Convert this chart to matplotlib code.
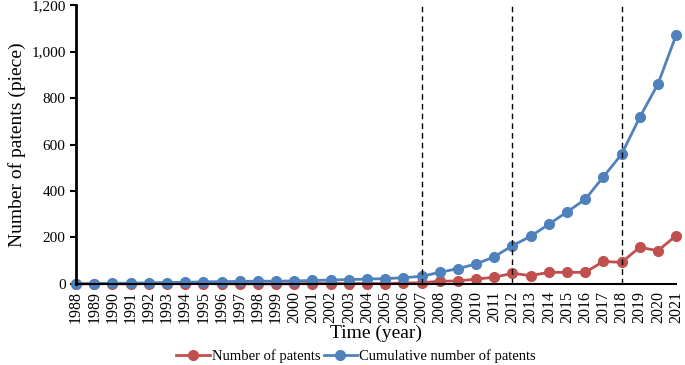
import matplotlib
matplotlib.use("Agg")
import matplotlib.pyplot as plt
from matplotlib.ticker import FuncFormatter

plt.rcParams['font.family'] = ['Liberation Serif', 'DejaVu Serif']

years = list(range(1988, 2022))
# patents per year
patents = [0, 1, 1, 0, 2, 1, 1, 2, 1, 1, 1, 0, 1, 2, 2, 2, 2, 2, 4, 5,
           12, 13, 21, 29, 46, 36, 50, 50, 50, 97, 93, 158, 143, 208]
# cumulative patents
cumulative = [1, 2, 3, 3, 5, 6, 7, 9, 10, 11, 12, 12, 13, 15, 17, 19, 21, 23, 27, 33,
              50, 66, 86, 117, 165, 205, 257, 310, 364, 461, 558, 717, 860, 1070]
split_years = [2007, 2012, 2018]

red = '#C0504D'
blue = '#4F81BD'

fig = plt.figure(figsize=(6.85, 3.65), dpi=100)
ax = fig.add_axes([0.111, 0.222, 0.876, 0.764])

ax.plot(years, patents, color=red, marker='o', markersize=7, linewidth=2, label='Number of patents')
ax.plot(years, cumulative, color=blue, marker='o', markersize=7, linewidth=2, label='Cumulative number of patents')

for yr in split_years:
    ax.axvline(yr, color='black', linestyle='--', linewidth=1, dashes=(4, 3))

ax.set_xlim(1988, 2021)
ax.set_ylim(0, 1200)
ax.set_yticks(range(0, 1201, 200))
ax.yaxis.set_major_formatter(FuncFormatter(lambda v, p: f'{int(v):,}'))
ax.set_xticks(years)
ax.set_xticklabels([str(y) for y in years], rotation=90, fontsize=11.5)
ax.tick_params(axis='x', length=0, pad=5)
ax.tick_params(axis='y', labelsize=11, width=1.5, length=4)

for s in ['top', 'right']:
    ax.spines[s].set_visible(False)
ax.spines['left'].set_linewidth(2)
ax.spines['bottom'].set_linewidth(1.5)

ax.set_xlabel('Time (year)', fontsize=14, labelpad=1)
ax.set_ylabel('Number of patents (piece)', fontsize=14)

for line in ax.lines:
    line.set_clip_on(False)

fig.legend(loc='lower center', bbox_to_anchor=(0.52, -0.03), ncol=2, frameon=False,
           fontsize=10.5, handlelength=2.3, columnspacing=0.2, handletextpad=0.15)

fig.savefig('out.png', dpi=100)
